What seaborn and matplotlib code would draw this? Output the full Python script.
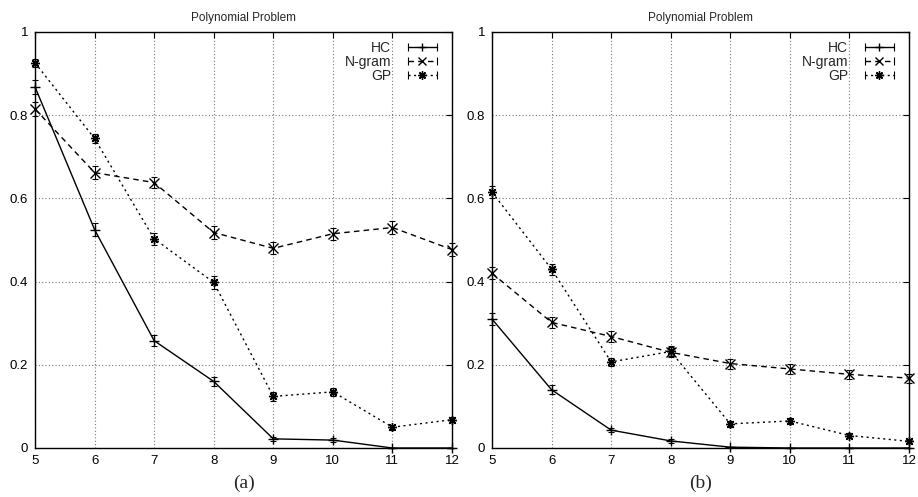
import matplotlib
matplotlib.use('Agg')
import matplotlib.pyplot as plt
from matplotlib.lines import Line2D
from matplotlib.legend_handler import HandlerLine2D, HandlerTuple
import seaborn as sns
import pandas as pd

# problem sizes on the x axis
sizes = [5, 6, 7, 8, 9, 10, 11, 12]
methods = ['HC', 'N-gram', 'GP']

# panel (a)
a_hc = [0.868, 0.525, 0.258, 0.160, 0.022, 0.019, 0.000, 0.000]
a_ngram = [0.815, 0.662, 0.638, 0.518, 0.480, 0.515, 0.530, 0.477]
a_gp = [0.926, 0.744, 0.503, 0.398, 0.124, 0.135, 0.050, 0.068]
a_hc_err = [0.016, 0.015, 0.013, 0.011, 0.004, 0.004, 0.001, 0.001]
a_ngram_err = [0.016, 0.015, 0.014, 0.015, 0.014, 0.015, 0.015, 0.015]
a_gp_err = [0.010, 0.012, 0.014, 0.015, 0.010, 0.010, 0.006, 0.006]

# panel (b)
b_hc = [0.310, 0.140, 0.043, 0.017, 0.002, 0.000, 0.000, 0.000]
b_ngram = [0.420, 0.302, 0.268, 0.230, 0.203, 0.190, 0.177, 0.168]
b_gp = [0.615, 0.430, 0.207, 0.232, 0.058, 0.065, 0.030, 0.016]
b_hc_err = [0.014, 0.011, 0.005, 0.004, 0.001, 0.001, 0.001, 0.001]
b_ngram_err = [0.014, 0.014, 0.014, 0.012, 0.012, 0.011, 0.011, 0.011]
b_gp_err = [0.014, 0.013, 0.010, 0.012, 0.007, 0.007, 0.005, 0.004]

panels = [
    ('(a)', [a_hc, a_ngram, a_gp], [a_hc_err, a_ngram_err, a_gp_err]),
    ('(b)', [b_hc, b_ngram, b_gp], [b_hc_err, b_ngram_err, b_gp_err]),
]

sns.set_style('white')
plt.rcParams['font.family'] = ['Liberation Sans', 'DejaVu Sans']

markers = {'HC': '+', 'N-gram': 'x', 'GP': (8, 2, 0)}
dashes = {'HC': '', 'N-gram': (4, 3), 'GP': (1.5, 2.5)}

fig = plt.figure(figsize=(9.18, 4.97), dpi=100)
lefts = [35 / 918, 492 / 918]

for left, (tag, vals, errs) in zip(lefts, panels):
    ax = fig.add_axes([left, 49 / 497, 417 / 918, 416 / 497])

    rows = []
    for m, v in zip(methods, vals):
        for s, y in zip(sizes, v):
            rows.append({'size': s, 'value': y, 'method': m})
    df = pd.DataFrame(rows)

    sns.lineplot(data=df, x='size', y='value', style='method', style_order=methods,
                 markers=markers, dashes=dashes, color='black', linewidth=1,
                 markersize=6.5, markeredgewidth=1, markeredgecolor='black',
                 errorbar=None, legend=False, ax=ax, clip_on=False)

    for m, v, e in zip(methods, vals, errs):
        ax.errorbar(sizes, v, yerr=e, fmt='none', ecolor='black', elinewidth=0.8,
                    capsize=2.5, capthick=0.8, clip_on=False)

    ax.set_xlim(5, 12)
    ax.set_ylim(0, 1)
    ax.set_xticks(sizes)
    ax.set_yticks([0, 0.2, 0.4, 0.6, 0.8, 1.0])
    ax.set_yticklabels(['0', '0.2', '0.4', '0.6', '0.8', '1'])
    ax.set_xlabel('')
    ax.set_ylabel('')
    ax.grid(True, linestyle=(0, (1, 2)), color='#777777', linewidth=0.8)
    ax.tick_params(direction='in', top=True, right=True, length=4, width=0.8,
                   labelsize=9.5, colors='black', pad=5)
    for sp in ax.spines.values():
        sp.set_color('black')
        sp.set_linewidth(1)
    ax.set_title('Polynomial Problem', fontsize=8.5, pad=8)
    ax.text(0.5, -0.065, tag, transform=ax.transAxes, ha='center', va='top',
            fontsize=14, family=['Liberation Serif', 'DejaVu Serif'])

    # gnuplot style legend: line sample with marker and end caps
    handles = []
    hmap = {}
    for m in methods:
        ln = Line2D([], [], color='black', linewidth=1, marker=markers[m],
                    markersize=6, markeredgewidth=1,
                    linestyle='-' if dashes[m] == '' else (0, dashes[m]))
        cap = Line2D([], [], color='black', linestyle='none', marker='|',
                     markersize=6, markeredgewidth=0.8)
        hmap[cap] = HandlerLine2D(numpoints=2, marker_pad=0)
        handles.append((ln, cap))
    hmap[tuple] = HandlerTuple(ndivide=1, pad=0)
    ax.legend(handles, methods, loc='upper right', bbox_to_anchor=(0.985, 1.0),
              frameon=False, markerfirst=False, fontsize=10, handlelength=2.1,
              handletextpad=1.2, labelspacing=0.0, borderaxespad=0.25,
              numpoints=1, handler_map=hmap)

fig.savefig('out.png', dpi=100)
